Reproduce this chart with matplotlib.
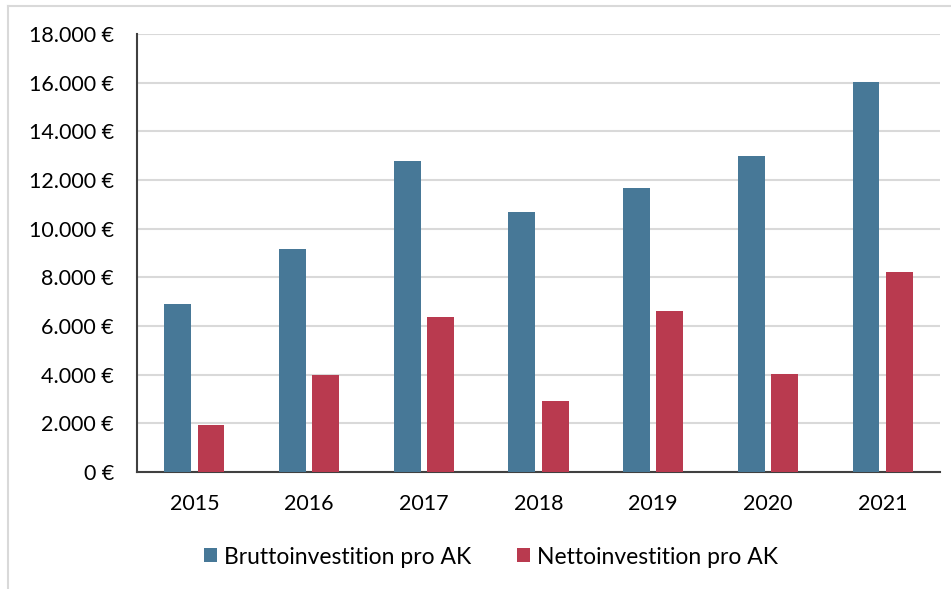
import matplotlib
matplotlib.use("Agg")
import matplotlib.pyplot as plt
from matplotlib.lines import Line2D
import numpy as np

years = ["2015", "2016", "2017", "2018", "2019", "2020", "2021"]
brutto = [6900, 9150, 12780, 10680, 11660, 13000, 16040]
netto = [1950, 4000, 6380, 2920, 6600, 4030, 8230]
series_names = ["Bruttoinvestition pro AK", "Nettoinvestition pro AK"]
yticks = list(range(0, 18001, 2000))

plt.rcParams['font.family'] = ['Lato', 'DejaVu Sans']

fig = plt.figure(figsize=(9.51, 5.89), dpi=100)
ax = fig.add_axes([137/951, 1-472/589, (940-137)/951, (472-34)/589])

x = np.arange(len(years))
w = 0.235
off = 0.145
ax.bar(x - off, brutto, w, color='#477897', label=series_names[0], zorder=3)
ax.bar(x + off, netto, w, color='#B93A4F', label=series_names[1], zorder=3)

ax.set_xlim(-0.5, len(years) - 0.5)
ax.set_ylim(0, 18000)
ax.set_yticks(yticks)
ax.set_yticklabels([f"{v:,}".replace(",", ".") + " €" for v in yticks])
ax.set_xticks(x)
ax.set_xticklabels(years)
ax.tick_params(axis='both', length=0, labelsize=15.5, colors='#000000')
ax.tick_params(axis='y', pad=16.5)
ax.tick_params(axis='x', pad=16)
ax.grid(axis='y', color='#d9d9d9', linewidth=1.5, zorder=0)
ax.set_axisbelow(True)
for s in ['top', 'right']:
    ax.spines[s].set_visible(False)
for s in ['left', 'bottom']:
    ax.spines[s].set_color('#404040')
    ax.spines[s].set_linewidth(1.5)

leg = fig.legend(loc='center', bbox_to_anchor=(491/951, 1-557/589), ncol=2,
                 frameon=False, fontsize=16.5, handlelength=0.55, handleheight=0.55,
                 columnspacing=2.0, handletextpad=0.3)

fig.add_artist(Line2D([8/951, 8/951], [0, 1-6/589], color='#d9d9d9', linewidth=1.5, transform=fig.transFigure))
fig.add_artist(Line2D([8/951, 1], [1-6/589, 1-6/589], color='#d9d9d9', linewidth=1.5, transform=fig.transFigure))

fig.savefig("out.png", dpi=100)
